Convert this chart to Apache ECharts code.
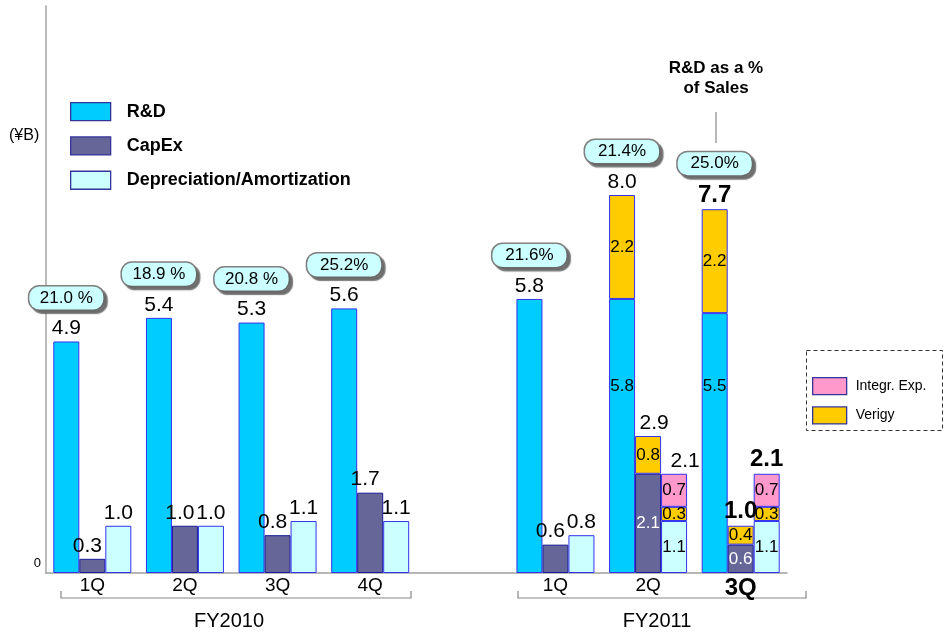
<!DOCTYPE html>
<html><head><meta charset="utf-8">
<script src="https://cdn.jsdelivr.net/npm/echarts@6/dist/echarts.min.js"></script>
<style>html,body{margin:0;padding:0;background:#fff}#c{width:945px;height:636px}</style>
</head><body><div id="c"></div>
<script>
// ---- data ----
const fiscalYears = ['FY2010','FY2010','FY2010','FY2010','','FY2011','FY2011','FY2011'];
const quarters    = ['1Q','2Q','3Q','4Q','','1Q','2Q','3Q'];
const rd          = [4.9, 5.4, 5.3, 5.6, null, 5.8, 5.8, 5.5];
const capex       = [0.3, 1.0, 0.8, 1.7, null, 0.6, 2.1, 0.6];
const depAmort    = [1.0, 1.0, 1.1, 1.1, null, 0.8, 1.1, 1.1];
const verigyRd    = [null, null, null, null, null, null, 2.2, 2.2];
const verigyCapex = [null, null, null, null, null, null, 0.8, 0.4];
const verigyDep   = [null, null, null, null, null, null, 0.3, 0.3];
const integrDep   = [null, null, null, null, null, null, 0.7, 0.7];
const rdPctLabels = ['21.0 %','18.9 %','20.8 %','25.2%', null, '21.6%','21.4%','25.0%'];

// ---- styles ----
const FONT = 'Liberation Sans, Arial, Helvetica, sans-serif';
const BW = 26;
const currentIdx = quarters.length - 1;
const categories = quarters.map((q, i) => (fiscalYears[i] + ' ' + q));

function segSeries(name, stack, values, color, borderColor, labelFn) {
  return {
    type: 'bar', name: name, stack: stack, barWidth: BW, barGap: '0%',
    itemStyle: { color: color, borderColor: borderColor, borderWidth: 1 },
    label: { show: false, fontSize: 17, color: '#000', fontFamily: FONT },
    data: values.map((v, i) => {
      if (v == null) return '-';
      const item = { value: v };
      const lab = labelFn ? labelFn(i, v) : null;
      if (lab) item.label = Object.assign({ show: true, formatter: v.toFixed(1) }, lab);
      return item;
    })
  };
}

function totalsOf(parts) {
  return quarters.map((_, i) => {
    let s = 0, any = false;
    parts.forEach(p => { if (p[i] != null) { s += p[i]; any = true; } });
    return any ? Math.round(s * 10) / 10 : null;
  });
}

function totalSeries(stack, parts, withPct, offsetFn) {
  const totals = totalsOf(parts);
  return {
    type: 'bar', stack: stack, barWidth: BW, barGap: '0%', silent: true,
    itemStyle: { color: 'rgba(0,0,0,0)', borderWidth: 0 },
    data: totals.map((t, i) => t == null ? '-' : { value: 0, label: { offset: offsetFn(i) } }),
    label: {
      show: true, position: 'top', distance: 2, fontFamily: FONT,
      formatter: p => {
        const i = p.dataIndex;
        const t = totals[i];
        if (t == null) return '';
        const v = (i === currentIdx ? '{vb|' : '{v|') + t.toFixed(1) + '}';
        if (withPct && rdPctLabels[i]) return '{p|' + rdPctLabels[i] + '}\n{g| }\n' + v;
        return v;
      },
      rich: {
        p: { fontSize: 17, fontFamily: FONT, color: '#000', backgroundColor: '#ccffff',
             borderColor: '#7f7f7f', borderWidth: 1.5, borderRadius: 10, width: 62,
             height: 19, lineHeight: 19, align: 'center', padding: [2, 6, 2, 6],
             shadowColor: 'rgba(100,100,100,0.85)', shadowOffsetX: 3, shadowOffsetY: 3, shadowBlur: 1 },
        g: { fontSize: 2, lineHeight: 10, height: 10 },
        v: { fontSize: 21, fontFamily: FONT, color: '#000', lineHeight: 22 },
        vb: { fontSize: 24, fontWeight: 'bold', fontFamily: FONT, color: '#000', lineHeight: 24 }
      }
    }
  };
}

const BLUE_BORDER = '#3333ee';
const series = [
  segSeries('R&D', 'rd', rd, '#00ccff', BLUE_BORDER,
    (i) => verigyRd[i] != null ? { position: 'insideBottom', offset: [0, -173] } : null),
  segSeries('CapEx', 'cap', capex, '#666699', '#1a1a99',
    (i) => verigyCapex[i] != null ? { position: 'inside', color: '#fff' } : null),
  segSeries('Depreciation/Amortization', 'dep', depAmort, '#ccffff', BLUE_BORDER,
    (i) => verigyDep[i] != null ? { position: 'inside' } : null),
  segSeries('Verigy', 'rd', verigyRd, '#ffcc00', BLUE_BORDER, () => ({ position: 'inside' })),
  segSeries('Verigy', 'cap', verigyCapex, '#ffcc00', BLUE_BORDER, () => ({ position: 'inside' })),
  segSeries('Verigy', 'dep', verigyDep, '#ffcc00', BLUE_BORDER, () => ({ position: 'inside' })),
  segSeries('Integr. Exp.', 'dep', integrDep, '#ff99cc', BLUE_BORDER, () => ({ position: 'inside' })),
  totalSeries('rd', [rd, verigyRd], true, () => [0, 0]),
  totalSeries('cap', [capex, verigyCapex], false,
    (i) => i === currentIdx ? [0, 0] : (verigyCapex[i] != null ? [6, 0] : [-5, 0])),
  totalSeries('dep', [depAmort, verigyDep, integrDep], false,
    (i) => (verigyDep[i] != null && i !== currentIdx) ? [11, 0] : [0, 0])
];

const chart = echarts.init(document.getElementById('c'), null, { renderer: 'canvas' });
chart.setOption({
  animation: false,
  textStyle: { fontFamily: FONT },
  grid: { left: 46, right: 158, top: 6, bottom: 63, containLabel: false },
  xAxis: {
    type: 'category', data: categories,
    axisLine: { lineStyle: { color: '#a0a0a0', width: 1.5 } },
    axisTick: { show: false },
    axisLabel: {
      interval: 0, margin: 3, fontSize: 19, color: '#000', fontFamily: FONT,
      formatter: (val, idx) => idx === currentIdx ? '{b|' + quarters[idx] + '}' : quarters[idx],
      rich: { b: { fontSize: 24, fontWeight: 'bold', color: '#000', fontFamily: FONT } }
    }
  },
  yAxis: {
    type: 'value', min: 0, max: 12, interval: 2,
    splitLine: { show: false },
    axisTick: { show: false },
    axisLine: { show: true, lineStyle: { color: '#bbbbbb', width: 2 } },
    axisLabel: { formatter: v => v === 0 ? '0' : '', fontSize: 13, color: '#000', margin: 5,
                 verticalAlign: 'bottom', padding: [0, 0, 3, 0] }
  },
  legend: [
    { data: ['R&D', 'CapEx', 'Depreciation/Amortization'], orient: 'vertical', left: 65, top: 97,
      itemWidth: 40, itemHeight: 18, itemGap: 15, icon: 'rect', selectedMode: false,
      itemStyle: { borderColor: '#333399', borderWidth: 1.3 },
      textStyle: { fontSize: 18, fontWeight: 'bold', color: '#000', fontFamily: FONT, padding: [0, 0, 0, 11] } },
    { data: ['Integr. Exp.', 'Verigy'], orient: 'vertical', left: 807, top: 372,
      itemWidth: 34, itemHeight: 17, itemGap: 11, icon: 'rect', selectedMode: false,
      itemStyle: { borderColor: '#333399', borderWidth: 1.3 },
      textStyle: { fontSize: 14, color: '#000', fontFamily: FONT, padding: [0, 0, 0, 4] } }
  ],
  graphic: [
    { type: 'text', x: 9, y: 136, style: { text: '(¥B)', fontSize: 16, fontFamily: FONT, fill: '#000', verticalAlign: 'middle' } },
    { type: 'text', x: 716, y: 78, style: { text: 'R&D as a %\nof Sales', fontSize: 17, fontWeight: 'bold', fontFamily: FONT,
        fill: '#000', align: 'center', verticalAlign: 'middle', lineHeight: 20 } },
    { type: 'line', shape: { x1: 716, y1: 112, x2: 716, y2: 143 }, style: { stroke: '#888', lineWidth: 1.2 } },
    { type: 'polyline', shape: { points: [[61, 591], [61, 598], [411, 598], [411, 591]] }, style: { stroke: '#888', lineWidth: 1.2, fill: null } },
    { type: 'polyline', shape: { points: [[518, 591], [518, 598], [806, 598], [806, 591]] }, style: { stroke: '#888', lineWidth: 1.2, fill: null } },
    { type: 'text', x: 229, y: 621, style: { text: 'FY2010', fontSize: 20, fontFamily: FONT, fill: '#000', align: 'center', verticalAlign: 'middle' } },
    { type: 'text', x: 657, y: 621, style: { text: 'FY2011', fontSize: 20, fontFamily: FONT, fill: '#000', align: 'center', verticalAlign: 'middle' } },
    { type: 'rect', shape: { x: 806.5, y: 350.5, width: 136, height: 80 }, style: { fill: 'none', stroke: '#333', lineWidth: 1, lineDash: [4, 3] } }
  ],
  series: series
});
</script>
</body></html>
